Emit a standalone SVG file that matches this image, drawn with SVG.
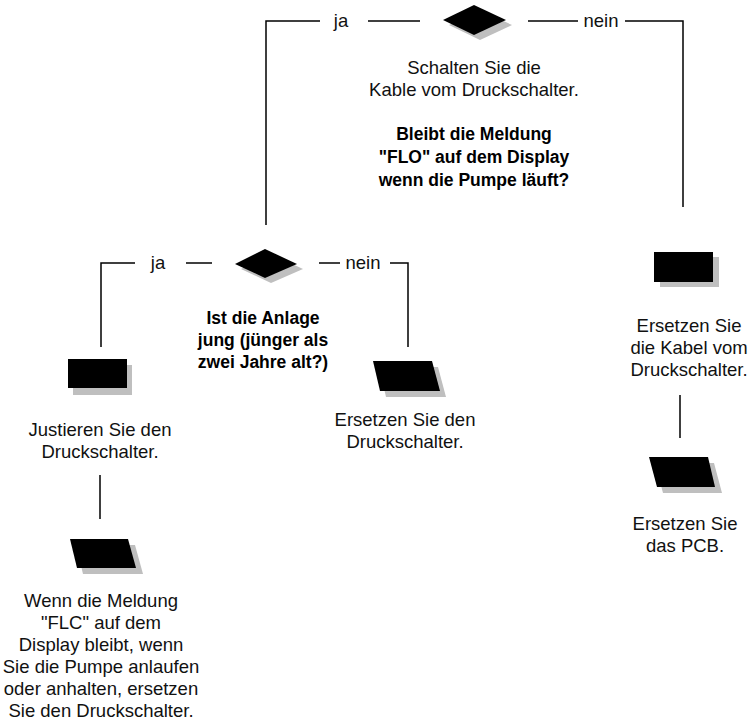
<svg xmlns="http://www.w3.org/2000/svg" width="751" height="720" viewBox="0 0 751 720">
<style>
.t{font-family:"Liberation Sans",Arial,sans-serif;font-size:18.5px;fill:#111;text-anchor:middle}
.b{font-family:"Liberation Sans",Arial,sans-serif;font-size:17.5px;font-weight:bold;fill:#000;text-anchor:middle}
.c{fill:none;stroke:#000;stroke-width:1.5}
.sh{fill:#bfbfbf}
.k{fill:#000}
</style>
<rect width="751" height="720" fill="#fff"/>
<g id="connectors">
<path class="c" d="M266,225 V21 H320"/>
<path class="c" d="M368,21 H420"/>
<path class="c" d="M528,21 H578"/>
<path class="c" d="M625,21 H683 V207"/>
<text class="t" x="341" y="27">ja</text>
<text class="t" x="601" y="27">nein</text>
<path class="c" d="M101,347 V263 H135"/>
<path class="c" d="M186,263 H212"/>
<path class="c" d="M319,263 H340"/>
<path class="c" d="M390,263 H408 V347"/>
<text class="t" x="158" y="269">ja</text>
<text class="t" x="363" y="269">nein</text>
<path class="c" d="M100,475 V519"/>
<path class="c" d="M680,395 V438"/>
</g>
<g id="decision1">
<polygon class="sh" points="480,10 512,25 480,40 449,25"/>
<polygon class="k" points="474,5 506,20 474,35 443,20"/>
<text class="t" x="474" y="74">Schalten Sie die</text>
<text class="t" x="474" y="96">Kable vom Druckschalter.</text>
<text class="b" x="474" y="140">Bleibt die Meldung</text>
<text class="b" x="474" y="163">"FLO" auf dem Display</text>
<text class="b" x="474" y="186">wenn die Pumpe läuft?</text>
</g>
<g id="decision2">
<polygon class="sh" points="271,254 303,269 271,283 241,269"/>
<polygon class="k" points="265,249 297,264 265,278 235,264"/>
<text class="b" x="263" y="324">Ist die Anlage</text>
<text class="b" x="263" y="346">jung (jünger als</text>
<text class="b" x="263" y="368">zwei Jahre alt?)</text>
</g>
<g id="adjust">
<rect class="sh" x="73" y="365" width="59" height="30"/>
<rect class="k" x="68" y="359" width="59" height="29"/>
<text class="t" x="100" y="436">Justieren Sie den</text>
<text class="t" x="100" y="458">Druckschalter.</text>
</g>
<g id="replace-switch">
<polygon class="sh" points="379,367 438,367 446,397 386,397"/>
<polygon class="k" points="373,361 432,361 440,391 380,391"/>
<text class="t" x="405" y="426">Ersetzen Sie den</text>
<text class="t" x="405" y="448">Druckschalter.</text>
</g>
<g id="replace-cable">
<rect class="sh" x="660" y="257" width="59" height="30"/>
<rect class="k" x="654" y="252" width="59" height="30"/>
<text class="t" x="689" y="332">Ersetzen Sie</text>
<text class="t" x="689" y="354">die Kabel vom</text>
<text class="t" x="689" y="376">Druckschalter.</text>
</g>
<g id="replace-pcb">
<polygon class="sh" points="655,463 714,463 722,493 663,493"/>
<polygon class="k" points="649,457 708,457 715,487 657,487"/>
<text class="t" x="685" y="530">Ersetzen Sie</text>
<text class="t" x="685" y="552">das PCB.</text>
</g>
<g id="flc">
<polygon class="sh" points="76,545 135,545 143,574 83,574"/>
<polygon class="k" points="70,539 128,539 136,568 77,568"/>
<text class="t" x="101" y="607">Wenn die Meldung</text>
<text class="t" x="101" y="629">"FLC" auf dem</text>
<text class="t" x="101" y="651">Display bleibt, wenn</text>
<text class="t" x="101" y="673">Sie die Pumpe anlaufen</text>
<text class="t" x="101" y="695">oder anhalten, ersetzen</text>
<text class="t" x="101" y="717">Sie den Druckschalter.</text>
</g>
</svg>
